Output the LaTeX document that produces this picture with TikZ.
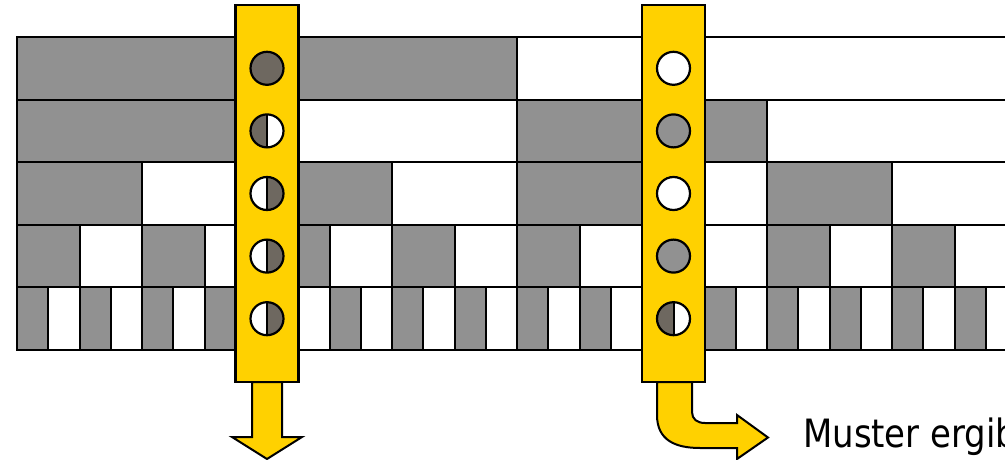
\documentclass[tikz,border=0pt]{standalone}
\usepackage{fontspec}
\usepackage{tikz}
\usetikzlibrary{positioning}
\newfontfamily\labelfont{DejaVu Sans}[FakeStretch=0.87]
\definecolor{BarGray}{HTML}{919191}
\definecolor{HoleDark}{HTML}{6E6860}
\definecolor{SliderYellow}{HTML}{FFD100}

\begin{document}
\begin{tikzpicture}[
	x=1pt, y=-1pt,
	cell/.style={draw, line width=2pt},
	slider/.style={draw, line width=2.2pt, fill=SliderYellow, minimum width=63pt, minimum height=377pt, inner sep=0pt},
	hole/.style={circle, draw, line width=2.2pt, fill=white, minimum size=33pt, inner sep=0pt},
	fullhole/.style={hole, fill=HoleDark},
	grayhole/.style={hole, fill=BarGray},
	lefthalf/.style={hole, path picture={
		\fill[HoleDark] (path picture bounding box.south west) rectangle (path picture bounding box.north);
		\draw[line width=2pt] (path picture bounding box.south) -- (path picture bounding box.north);}},
	righthalf/.style={hole, path picture={
		\fill[HoleDark] (path picture bounding box.south east) rectangle (path picture bounding box.north);
		\draw[line width=2pt] (path picture bounding box.south) -- (path picture bounding box.north);}},
	fatarrow/.style={draw, line width=2pt, fill=SliderYellow, line join=miter}
]
\useasboundingbox (0,0) rectangle (1005,460);

% bit rows, each half the width of the one above
\foreach \r in {0,...,4} {
	\pgfmathsetmacro\w{500/2^\r}
	\pgfmathsetmacro\top{37+62.6*\r}
	\pgfmathtruncatemacro\n{2^(\r+1)-1}
	\foreach \k in {0,...,\n} {
		\ifodd\k \def\cellcol{white}\else \def\cellcol{BarGray}\fi
		\draw[cell, fill=\cellcol] (17+\k*\w,\top) rectangle ++(\w,62.6);
	}
}

% arrows below the sliders
\draw[fatarrow] (252,382) -- (252,437) -- (232,437) -- (267,459) -- (302,437) -- (282,437) -- (282,382) -- cycle;
\draw[fatarrow] (657,382) -- (657,415) .. controls (657,440) and (675,448) .. (700,448) -- (737,448) -- (737,459) -- (768,437.5) -- (737,415) -- (737,423) -- (705,423) .. controls (697,423) and (692,419) .. (692,412) -- (692,382) -- cycle;

% sliders
\node[slider] (leftbar) at (267,193.5) {};
\node[slider] (rightbar) at (673.5,193.5) {};

\node[fullhole] (l1) at (267,68.3) {};
\node[lefthalf] (l2) at (267,130.9) {};
\node[righthalf] (l3) at (267,193.5) {};
\node[righthalf] (l4) at (267,256.1) {};
\node[righthalf] (l5) at (267,318.7) {};

\node[hole] (r1) at (673.5,68.3) {};
\node[grayhole] (r2) at (673.5,130.9) {};
\node[hole] (r3) at (673.5,193.5) {};
\node[grayhole] (r4) at (673.5,256.1) {};
\node[lefthalf] (r5) at (673.5,318.7) {};

\node[anchor=base west, inner sep=0pt, font=\labelfont\fontsize{39}{47}\selectfont] (result) at (803,447) {Muster ergib};
\end{tikzpicture}
\end{document}
